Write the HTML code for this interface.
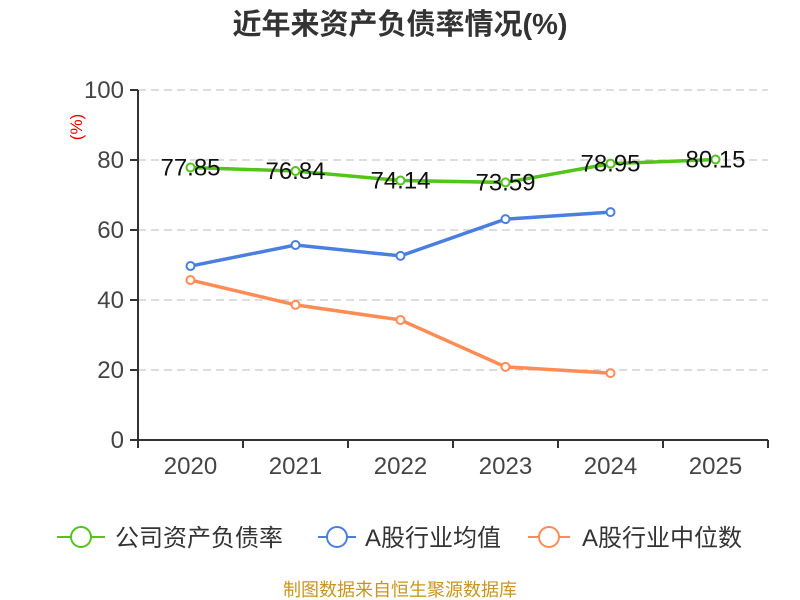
<!DOCTYPE html>
<html><head><meta charset="utf-8"><style>
body{margin:0;background:#fff;}
svg{display:block;font-family:"Liberation Sans","Noto Sans CJK SC",sans-serif;}
</style></head><body>
<svg id="c" width="800" height="600">
<text x="400" y="34" text-anchor="middle" font-size="29" font-weight="bold" fill="#333">近年来资产负债率情况(%)</text>
<text transform="translate(82,127) rotate(-90)" text-anchor="middle" font-size="17" fill="#e00">(%)</text>
<g id="grid"></g><g id="axes"></g><g id="series"></g>
<g>
<g><line x1="57" y1="537" x2="105" y2="537" stroke="#52c41a" stroke-width="2"/><circle cx="81" cy="537" r="10" fill="#fff" stroke="#52c41a" stroke-width="2"/><text x="115" y="546" font-size="24" fill="#333">公司资产负债率</text></g>
<g><line x1="318" y1="537" x2="356" y2="537" stroke="#4a7fe0" stroke-width="2"/><circle cx="337" cy="537" r="10" fill="#fff" stroke="#4a7fe0" stroke-width="2"/><text x="365" y="546" font-size="24" fill="#333">A股行业均值</text></g>
<g><line x1="528" y1="537" x2="570" y2="537" stroke="#ff8c55" stroke-width="2"/><circle cx="549" cy="537" r="10" fill="#fff" stroke="#ff8c55" stroke-width="2"/><text x="582" y="546" font-size="24" fill="#333">A股行业中位数</text></g>
</g>
<text x="400" y="596" text-anchor="middle" font-size="18" fill="#c8961e">制图数据来自恒生聚源数据库</text>
</svg>
<script>
const categories=["2020","2021","2022","2023","2024","2025"];
const companyVals=[77.85,76.84,74.14,73.59,78.95,80.15];
const avgVals=[49.7,55.7,52.6,63.1,65.1];
const medianVals=[45.7,38.6,34.3,20.9,19.1];
const yTicks=[0,20,40,60,80,100];
const NS="http://www.w3.org/2000/svg";
const X0=138,X1=768,Y0=440,Y1=90;
const bw=(X1-X0)/categories.length;
const xs=i=>X0+bw*(i+0.5);
const ys=v=>Y0-(v/100)*(Y0-Y1);
function mk(t,a,p){const e=document.createElementNS(NS,t);for(const k in a)e.setAttribute(k,a[k]);p.appendChild(e);return e;}
const grid=document.getElementById('grid'),axes=document.getElementById('axes'),ser=document.getElementById('series');
yTicks.forEach(v=>{
  if(v>0){const g=mk('line',{x1:X0,x2:X1,y1:ys(v),y2:ys(v),stroke:'#bbb','stroke-dasharray':'8,5'},grid);
  
  }
  mk('line',{x1:X0-8,x2:X0,y1:ys(v),y2:ys(v),stroke:'#333','stroke-width':2},axes);
  const t=mk('text',{x:X0-14,y:ys(v)+8,'text-anchor':'end','font-size':24,fill:'#444'},axes);t.textContent=v;
  
  
});
mk('line',{x1:X0,x2:X0,y1:Y1,y2:Y0,stroke:'#333','stroke-width':2},axes);
mk('line',{x1:X0,x2:X1,y1:Y0,y2:Y0,stroke:'#333','stroke-width':2},axes);
for(let i=0;i<=categories.length;i++)mk('line',{x1:X0+bw*i,x2:X0+bw*i,y1:Y0,y2:Y0+8,stroke:'#333','stroke-width':2},axes);
categories.forEach((c,i)=>{const t=mk('text',{x:xs(i),y:474,'text-anchor':'middle','font-size':24,fill:'#444'},axes);t.textContent=c;
  
  });
function line(vals,color,name,labels){
  const g=mk('g',{},ser);
  
  
  mk('polyline',{points:vals.map((v,i)=>xs(i)+','+ys(v)).join(' '),fill:'none',stroke:color,'stroke-width':3.5},g);
  vals.forEach((v,i)=>{const p=mk('circle',{cx:xs(i),cy:ys(v),r:4,fill:'#fff',stroke:color,'stroke-width':2},g);
    
    
    if(labels){const t=mk('text',{x:xs(i),y:ys(v)+8,'text-anchor':'middle','font-size':24,fill:'#111'},g);t.textContent=v.toFixed(2);
      
      }
  });
}
line(avgVals,'#4a7fe0','industry-avg-line',false);
line(medianVals,'#ff8c55','industry-median-line',false);
line(companyVals,'#52c41a','company-line',true);
</script>
</body></html>
